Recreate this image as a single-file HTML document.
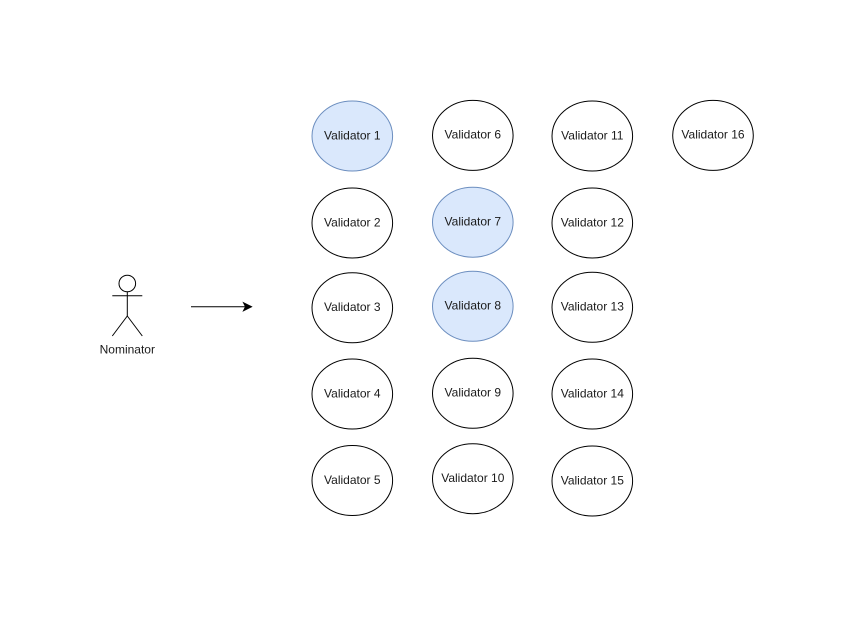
<!DOCTYPE html>
<html><head><meta charset="utf-8"><style>
html,body{margin:0;padding:0;background:#fff;}
svg{display:block;}
text{font-family:"Liberation Sans",Arial,sans-serif;font-size:12px;fill:#1a1a1a;}
</style></head><body>
<svg width="853" height="617" viewBox="0 0 853 617" xmlns="http://www.w3.org/2000/svg">
<rect width="853" height="617" fill="#fff"/>
<!-- actor -->
<g stroke="#000" stroke-width="1" fill="none">
<circle cx="127.3" cy="283.5" r="8.3" fill="#fff"/>
<line x1="127.3" y1="291.8" x2="127.3" y2="316"/>
<line x1="112.3" y1="295.7" x2="142.3" y2="295.7"/>
<line x1="127.3" y1="316" x2="112.3" y2="336"/>
<line x1="127.3" y1="316" x2="142.3" y2="336"/>
</g>
<text x="127.3" y="353.5" text-anchor="middle">Nominator</text>
<!-- arrow -->
<line x1="191" y1="306.7" x2="245" y2="306.7" stroke="#000" stroke-width="1"/>
<path d="M251.5 306.7 L243.5 302.7 L245.5 306.7 L243.5 310.7 Z" fill="#000" stroke="#000" stroke-width="1"/>
<!-- validators -->
<g stroke-width="1">
<ellipse cx="352.3" cy="136" rx="40.3" ry="35" fill="#dae8fc" stroke="#6c8ebf"/>
<ellipse cx="352.3" cy="223" rx="40.3" ry="35" fill="#fff" stroke="#000"/>
<ellipse cx="352.3" cy="307.8" rx="40.3" ry="35" fill="#fff" stroke="#000"/>
<ellipse cx="352.3" cy="394" rx="40.3" ry="35" fill="#fff" stroke="#000"/>
<ellipse cx="352.3" cy="480.5" rx="40.3" ry="35" fill="#fff" stroke="#000"/>

<ellipse cx="472.8" cy="135.4" rx="40.3" ry="35" fill="#fff" stroke="#000"/>
<ellipse cx="472.8" cy="222.2" rx="40.3" ry="35" fill="#dae8fc" stroke="#6c8ebf"/>
<ellipse cx="472.8" cy="306.2" rx="40.3" ry="35" fill="#dae8fc" stroke="#6c8ebf"/>
<ellipse cx="472.8" cy="393.3" rx="40.3" ry="35" fill="#fff" stroke="#000"/>
<ellipse cx="472.8" cy="478.7" rx="40.3" ry="35" fill="#fff" stroke="#000"/>

<ellipse cx="592.3" cy="136" rx="40.3" ry="35" fill="#fff" stroke="#000"/>
<ellipse cx="592.3" cy="223" rx="40.3" ry="35" fill="#fff" stroke="#000"/>
<ellipse cx="592.3" cy="307.3" rx="40.3" ry="35" fill="#fff" stroke="#000"/>
<ellipse cx="592.3" cy="394" rx="40.3" ry="35" fill="#fff" stroke="#000"/>
<ellipse cx="592.3" cy="481" rx="40.3" ry="35" fill="#fff" stroke="#000"/>

<ellipse cx="713" cy="135.4" rx="40.3" ry="35" fill="#fff" stroke="#000"/>
</g>
<g text-anchor="middle">
<text x="352.3" y="139.3">Validator 1</text>
<text x="352.3" y="226.3">Validator 2</text>
<text x="352.3" y="311">Validator 3</text>
<text x="352.3" y="397.5">Validator 4</text>
<text x="352.3" y="484">Validator 5</text>

<text x="472.8" y="138.7">Validator 6</text>
<text x="472.8" y="225.5">Validator 7</text>
<text x="472.8" y="309.5">Validator 8</text>
<text x="472.8" y="396.7">Validator 9</text>
<text x="472.8" y="482">Validator 10</text>

<text x="592.3" y="139.3">Validator 11</text>
<text x="592.3" y="226.3">Validator 12</text>
<text x="592.3" y="310.7">Validator 13</text>
<text x="592.3" y="397.5">Validator 14</text>
<text x="592.3" y="484.5">Validator 15</text>

<text x="713" y="138.7">Validator 16</text>
</g>
</svg>
</body></html>
